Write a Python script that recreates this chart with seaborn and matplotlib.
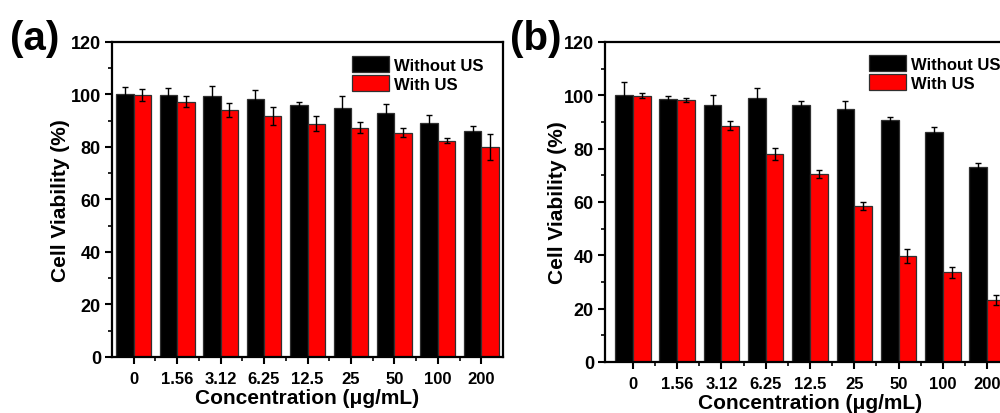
import numpy as np
import pandas as pd
import matplotlib
matplotlib.use("Agg")
import matplotlib.pyplot as plt
from matplotlib.ticker import MultipleLocator, FixedLocator
import seaborn as sns

# Concentrations tested (µg/mL)
concentrations = ["0", "1.56", "3.12", "6.25", "12.5", "25", "50", "100", "200"]
groups = ["Without US", "With US"]

# Panel (a): mean cell viability (%) and standard deviation
a_without_mean = [100.0, 99.7, 99.4, 98.4, 96.0, 94.7, 92.8, 89.3, 86.2]
a_without_sd = [2.9, 2.8, 3.8, 3.3, 1.0, 4.6, 3.5, 2.8, 1.7]
a_with_mean = [99.8, 97.3, 94.1, 91.8, 88.9, 87.4, 85.5, 82.4, 80.1]
a_with_sd = [2.2, 2.0, 2.5, 3.3, 3.0, 2.0, 1.7, 1.0, 4.9]

# Panel (b): mean cell viability (%) and standard deviation
b_without_mean = [100.0, 98.7, 96.4, 99.0, 96.5, 94.9, 90.6, 86.3, 73.3]
b_without_sd = [5.0, 1.1, 3.8, 3.9, 1.2, 3.0, 1.3, 2.0, 1.3]
b_with_mean = [99.9, 98.2, 88.6, 78.0, 70.4, 58.5, 39.7, 33.6, 23.3]
b_with_sd = [1.0, 0.8, 1.7, 2.3, 1.5, 1.4, 2.5, 2.0, 2.0]

sns.set_style("ticks")
plt.rcParams["font.family"] = ["Liberation Sans", "DejaVu Sans"]
plt.rcParams["font.weight"] = "bold"
plt.rcParams["axes.labelweight"] = "bold"
plt.rcParams["axes.linewidth"] = 1.6
plt.rcParams["xtick.direction"] = "out"
plt.rcParams["ytick.direction"] = "out"
for key in ("text.color", "axes.labelcolor", "xtick.color", "ytick.color",
            "xtick.labelcolor", "ytick.labelcolor", "axes.edgecolor"):
    plt.rcParams[key] = "black"

fig = plt.figure(figsize=(10, 4.14), dpi=100)


def frame(without_mean, with_mean):
    return pd.DataFrame({
        "conc": concentrations * 2,
        "viability": list(without_mean) + list(with_mean),
        "group": [groups[0]] * len(concentrations) + [groups[1]] * len(concentrations),
    })


def draw_panel(ax, without_mean, without_sd, with_mean, with_sd, xlim,
               leg_anchor, xlabel_y, ylabel_x):
    df = frame(without_mean, with_mean)
    sns.barplot(data=df, x="conc", y="viability", hue="group",
                order=concentrations, hue_order=groups,
                palette=["#000000", "#ff0000"], errorbar=None, width=0.8,
                edgecolor="#303030", linewidth=0.9, saturation=1, ax=ax)
    # error bars centred on each bar
    for container, sd, mean in zip(ax.containers,
                                   [without_sd, with_sd],
                                   [without_mean, with_mean]):
        xs = [p.get_x() + p.get_width() / 2 for p in container.patches]
        ax.errorbar(xs, mean, yerr=sd, fmt="none", ecolor="black",
                    elinewidth=1.0, capsize=2.5, capthick=1.0, zorder=5)

    ax.set_ylim(0, 120)
    ax.set_xlim(*xlim)
    ax.yaxis.set_major_locator(MultipleLocator(20))
    ax.yaxis.set_minor_locator(MultipleLocator(10))
    ax.xaxis.set_minor_locator(FixedLocator(np.arange(0.5, len(concentrations) - 1, 1.0)))
    ax.tick_params(axis="both", which="major", length=5, width=1.5, colors="black")
    ax.tick_params(axis="x", which="major", labelsize=12, pad=5)
    ax.tick_params(axis="y", which="major", labelsize=13, pad=3)
    ax.tick_params(axis="both", which="minor", length=3, width=1.2, colors="black")
    ax.tick_params(top=False, right=False)
    for s in ax.spines.values():
        s.set_visible(True)
        s.set_linewidth(1.6)
        s.set_color("black")
    for lbl in ax.get_xticklabels() + ax.get_yticklabels():
        lbl.set_fontweight("bold")
        lbl.set_color("black")

    ax.set_xlabel("Concentration (\u03bcg/mL)", fontsize=15, fontweight="bold",
                  color="black")
    ax.set_ylabel("Cell Viability (%)", fontsize=15, fontweight="bold",
                  color="black")
    ax.xaxis.set_label_coords(0.5, xlabel_y)
    ax.yaxis.set_label_coords(ylabel_x, 0.5)

    handles, labels = ax.get_legend_handles_labels()
    leg = ax.legend(handles, labels, loc="upper left", bbox_to_anchor=leg_anchor,
                    frameon=False, handlelength=2.2, handleheight=1.1,
                    labelspacing=0.15, handletextpad=0.3, borderpad=0,
                    borderaxespad=0, prop={"weight": "bold", "size": 12})
    for t in leg.get_texts():
        t.set_color("black")


ax_a = fig.add_axes([0.112, 0.1353, 0.391, 0.7609])
draw_panel(ax_a, a_without_mean, a_without_sd, a_with_mean, a_with_sd,
           (-0.5, 8.5), (0.614, 0.956), -0.100, -0.108)

ax_b = fig.add_axes([0.605, 0.1232, 0.41, 0.773])
draw_panel(ax_b, b_without_mean, b_without_sd, b_with_mean, b_with_sd,
           (-0.63, 8.63), (0.644, 0.959), -0.096, -0.093)

fig.text(0.010, 0.905, "(a)", fontsize=29, fontweight="bold", ha="left",
         va="center", color="black")
fig.text(0.510, 0.905, "(b)", fontsize=29, fontweight="bold", ha="left",
         va="center", color="black")

fig.savefig("out.png", dpi=100)
